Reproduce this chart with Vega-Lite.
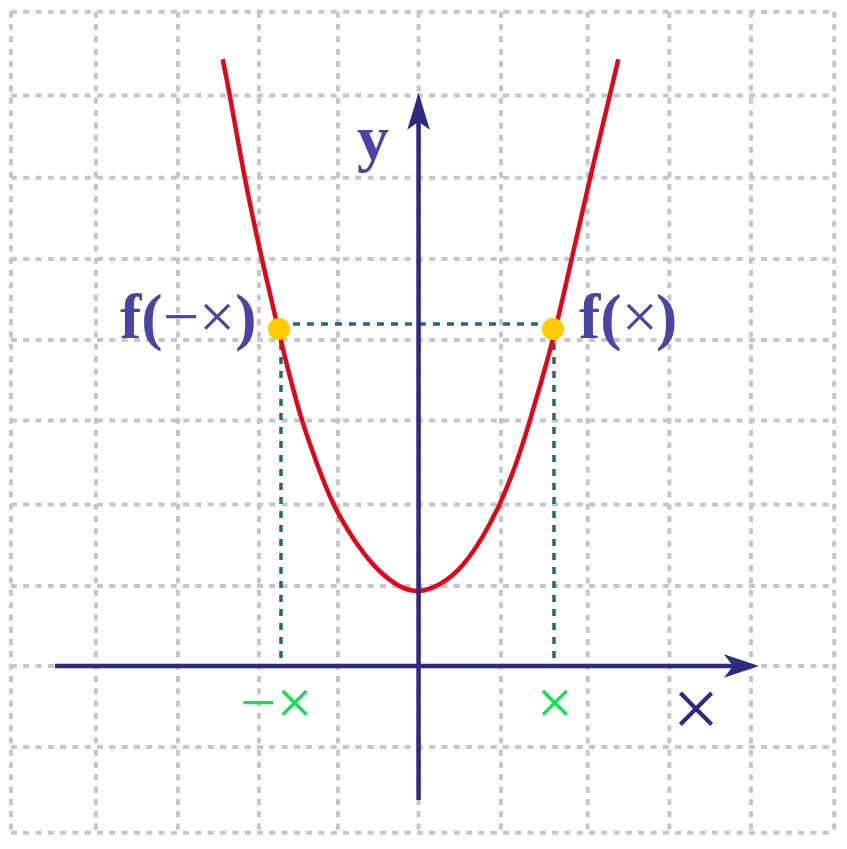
{
  "$schema": "https://vega.github.io/schema/vega-lite/v6.json",
  "width": 847,
  "height": 849,
  "padding": 0,
  "autosize": {"type": "none"},
  "background": "white",
  "config": {"view": {"stroke": null}},
  "datasets": {
    "gridX": [
      {"x": -4.957, "y": 7.979, "x2": -4.957, "y2": -2.033},
      {"x": -3.924, "y": 7.979, "x2": -3.924, "y2": -2.033},
      {"x": -2.926, "y": 7.979, "x2": -2.926, "y2": -2.033},
      {"x": -1.941, "y": 7.979, "x2": -1.941, "y2": -2.033},
      {"x": -0.98, "y": 7.979, "x2": -0.98, "y2": -2.033},
      {"x": 0, "y": 7.979, "x2": 0, "y2": -2.033},
      {"x": 1.002, "y": 7.979, "x2": 1.002, "y2": -2.033},
      {"x": 2.056, "y": 7.979, "x2": 2.056, "y2": -2.033},
      {"x": 3.05, "y": 7.979, "x2": 3.05, "y2": -2.033},
      {"x": 4.042, "y": 7.979, "x2": 4.042, "y2": -2.033},
      {"x": 5.055, "y": 7.979, "x2": 5.055, "y2": -2.033}
    ],
    "gridY": [
      {"x": -4.957, "y": 7.979, "x2": 5.055, "y2": 7.979},
      {"x": -4.957, "y": 6.957, "x2": 5.055, "y2": 6.957},
      {"x": -4.957, "y": 5.955, "x2": 5.055, "y2": 5.955},
      {"x": -4.957, "y": 4.963, "x2": 5.055, "y2": 4.963},
      {"x": -4.957, "y": 3.976, "x2": 5.055, "y2": 3.976},
      {"x": -4.957, "y": 2.994, "x2": 5.055, "y2": 2.994},
      {"x": -4.957, "y": 1.97, "x2": 5.055, "y2": 1.97},
      {"x": -4.957, "y": 0.976, "x2": 5.055, "y2": 0.976},
      {"x": -4.957, "y": 0, "x2": 5.055, "y2": 0},
      {"x": -4.957, "y": -0.988, "x2": 5.055, "y2": -0.988},
      {"x": -4.957, "y": -2.033, "x2": 5.055, "y2": -2.033}
    ],
    "dots": [
      {"x": -1.698, "y": 4.171, "x2": 1.634, "y2": 4.171},
      {"x": -1.673, "y": 4.11, "x2": -1.673, "y2": 0},
      {"x": 1.647, "y": 4.11, "x2": 1.647, "y2": 0}
    ],
    "axes": [
      {"x": -4.421, "y": 0, "x2": 3.85, "y2": 0},
      {"x": 0, "y": -1.634, "x2": 0, "y2": 6.65}
    ],
    "arrows": [
      {"x": 4.139, "y": 0, "dir": "right"},
      {"x": 0, "y": 6.991, "dir": "up"}
    ],
    "curve": [
      {"x": -2.382, "y": 7.399}, {"x": -2.294, "y": 6.963}, {"x": -2.12, "y": 5.955}, {"x": -1.908, "y": 4.963},
      {"x": -1.677, "y": 3.976}, {"x": -1.555, "y": 3.488}, {"x": -1.422, "y": 2.988}, {"x": -1.239, "y": 2.472},
      {"x": -1.045, "y": 1.963}, {"x": -0.814, "y": 1.577}, {"x": -0.551, "y": 1.211}, {"x": -0.247, "y": 0.96},
      {"x": -0.019, "y": 0.89}, {"x": 0.26, "y": 0.975}, {"x": 0.544, "y": 1.211}, {"x": 0.787, "y": 1.577},
      {"x": 0.99, "y": 1.963}, {"x": 1.193, "y": 2.472}, {"x": 1.355, "y": 2.988}, {"x": 1.497, "y": 3.488},
      {"x": 1.638, "y": 3.976}, {"x": 1.862, "y": 4.963}, {"x": 2.084, "y": 5.955}, {"x": 2.328, "y": 6.963},
      {"x": 2.429, "y": 7.399}
    ],
    "pts": [{"x": -1.698, "y": 4.11}, {"x": 1.634, "y": 4.11}],
    "labBold": [
      {"x": -3.631, "y": 4.0, "t": "f("},
      {"x": -2.23, "y": 4.0, "t": ")"},
      {"x": 1.951, "y": 4.0, "t": "f("},
      {"x": 2.887, "y": 4.0, "t": ")"},
      {"x": -0.749, "y": 6.183, "t": "y"}
    ],
    "labReg": [
      {"x": -3.108, "y": 4.0, "t": "−×"},
      {"x": 2.47, "y": 4.0, "t": "×"}
    ],
    "labGreen": [
      {"x": -2.167, "y": -0.713, "t": "−×"},
      {"x": 1.436, "y": -0.713, "t": "×"}
    ],
    "labBig": [
      {"x": 3.086, "y": -0.862, "t": "×"}
    ]
  },
  "encoding": {
    "x": {"field": "x", "type": "quantitative", "scale": {"domain": [-5.09, 5.21], "nice": false, "zero": false}, "axis": null},
    "y": {"field": "y", "type": "quantitative", "scale": {"domain": [-2.232, 8.122], "nice": false, "zero": false}, "axis": null}
  },
  "layer": [
    {
      "data": {"name": "gridX"},
      "mark": {"type": "rule", "color": "#c6c6c6", "strokeWidth": 4, "strokeDash": [6, 6.3]},
      "encoding": {"x2": {"field": "x2"}, "y2": {"field": "y2"}}
    },
    {
      "data": {"name": "gridY"},
      "mark": {"type": "rule", "color": "#c6c6c6", "strokeWidth": 4, "strokeDash": [6, 6.3]},
      "encoding": {"x2": {"field": "x2"}, "y2": {"field": "y2"}}
    },
    {
      "data": {"name": "dots"},
      "mark": {"type": "rule", "color": "#24667b", "strokeWidth": 3.5, "strokeDash": [7, 7]},
      "encoding": {"x2": {"field": "x2"}, "y2": {"field": "y2"}}
    },
    {
      "data": {"name": "curve"},
      "mark": {"type": "line", "color": "#e1061a", "strokeWidth": 4.5, "interpolate": "basis"},
      "encoding": {}
    },
    {
      "data": {"name": "axes"},
      "mark": {"type": "rule", "color": "#2e2a7f", "strokeWidth": 4.5},
      "encoding": {"x2": {"field": "x2"}, "y2": {"field": "y2"}}
    },
    {
      "data": {"name": "arrows"},
      "mark": {"type": "point", "filled": true, "opacity": 1, "size": 4, "color": "#2e2a7f", "strokeWidth": 0},
      "encoding": {
        "shape": {"field": "dir", "type": "nominal", "legend": null,
          "scale": {"domain": ["right", "up"], "range": ["M0,0L-35,-11.7L-26,0L-35,11.7Z", "M0,0L-11.3,37L0,29L11.3,37Z"]}}
      }
    },
    {
      "data": {"name": "pts"},
      "mark": {"type": "circle", "size": 491, "color": "#ffcc00", "opacity": 1}
    },
    {
      "data": {"name": "labBold"},
      "mark": {"type": "text", "font": "Liberation Serif", "fontWeight": "bold", "fontSize": 64, "color": "#4b44a2", "align": "left", "baseline": "alphabetic"},
      "encoding": {"text": {"field": "t"}}
    },
    {
      "data": {"name": "labReg"},
      "mark": {"type": "text", "font": "Liberation Serif", "fontSize": 64, "color": "#4b44a2", "align": "left", "baseline": "alphabetic"},
      "encoding": {"text": {"field": "t"}}
    },
    {
      "data": {"name": "labGreen"},
      "mark": {"type": "text", "font": "Liberation Serif", "fontSize": 64, "color": "#0fe050", "align": "left", "baseline": "alphabetic"},
      "encoding": {"text": {"field": "t"}}
    },
    {
      "data": {"name": "labBig"},
      "mark": {"type": "text", "font": "Liberation Serif", "fontSize": 84, "color": "#2e2a7f", "align": "left", "baseline": "alphabetic"},
      "encoding": {"text": {"field": "t"}}
    }
  ]
}
